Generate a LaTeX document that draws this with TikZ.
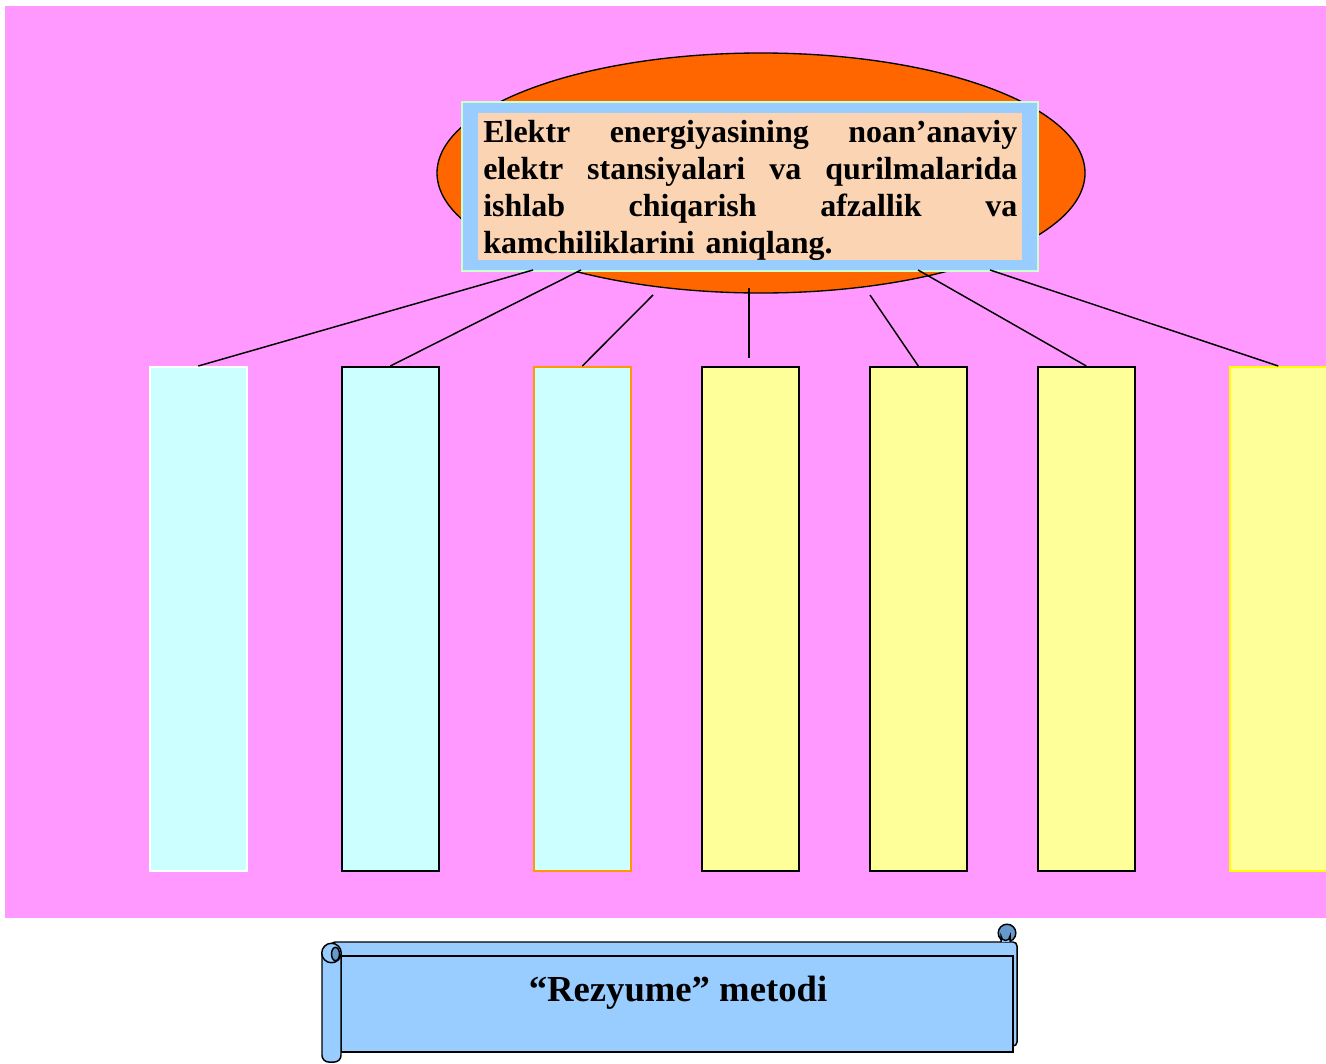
\documentclass[tikz,border=0pt]{standalone}
\usepackage{fontspec}
\setmainfont{Liberation Serif}
\usetikzlibrary{shapes.geometric}
\definecolor{bgpink}{HTML}{FF99FF}
\definecolor{ovalorange}{HTML}{FF6600}
\definecolor{boxblue}{HTML}{99CCFF}
\definecolor{boxgreen}{HTML}{CCFFCC}
\definecolor{peach}{HTML}{FBD4B4}
\definecolor{colcyan}{HTML}{CCFFFF}
\definecolor{colyellow}{HTML}{FFFF99}
\definecolor{brightyellow}{HTML}{FFFF00}
\definecolor{edgeorange}{HTML}{FF9900}
\definecolor{scrollblue}{HTML}{99CCFF}
\definecolor{scrolldark}{HTML}{6699CC}
\begin{document}
\begin{tikzpicture}[x=0.75pt,y=-0.75pt,
  oval/.style={ellipse, draw=black, line width=1pt, fill=ovalorange,
    minimum width=486pt, minimum height=180pt, inner sep=0pt},
  qbox/.style={rectangle, draw=boxgreen, line width=1pt, fill=boxblue,
    minimum width=432pt, minimum height=126.75pt, inner sep=0pt},
  qinner/.style={rectangle, fill=peach, minimum width=408pt,
    minimum height=110.25pt, inner sep=0pt},
  qtext/.style={inner sep=0pt, text width=400.5pt, align=left,
    font=\fontsize{24pt}{27.75pt}\selectfont\bfseries},
  col/.style={rectangle, line width=1.2pt, minimum width=72.75pt,
    minimum height=378pt, inner sep=0pt, anchor=north west},
  conn/.style={draw=black, line width=1.1pt},
  sline/.style={draw=black, line width=1.1pt},
  title/.style={inner sep=0pt, font=\fontsize{27.5pt}{33pt}\selectfont\bfseries}
]
\useasboundingbox (0,0) rectangle (1326,1063);
% background
\fill[bgpink] (5,6) rectangle (1326,918);
% oval and question box
\node[oval] (oval) at (761,173) {};
\node[qbox] (qbox) at (750,186.5) {};
\node[qinner] (qin) at (750,186.5) {};
\node[qtext, anchor=north west] (qtext) at (483,120)
  {\makebox[400.5pt][l]{Elektr\hfill energiyasining\hfill noan’anaviy}\\
   \makebox[400.5pt][l]{elektr\hfill stansiyalari\hfill va\hfill qurilmalarida}\\
   \makebox[400.5pt][l]{ishlab\hfill chiqarish\hfill afzallik\hfill va}\\
   kamchiliklarini aniqlang.};
% columns
\node[col, fill=colcyan, draw=white] (r1) at (149,366) {};
\node[col, fill=colcyan, draw=black] (r2) at (341,366) {};
\node[col, fill=colcyan, draw=edgeorange] (r3) at (533,366) {};
\node[col, fill=colyellow, draw=black] (r4) at (701,366) {};
\node[col, fill=colyellow, draw=black] (r5) at (869,366) {};
\node[col, fill=colyellow, draw=black] (r6) at (1037,366) {};
\node[col, fill=colyellow, draw=brightyellow] (r7) at (1229,366) {};
% connector start points
\coordinate (s1) at (533,270);
\coordinate (s2) at (581,270);
\coordinate (s3) at (653,295);
\coordinate (s4) at (749,288);
\coordinate (e4) at (749,358);
\coordinate (s5) at (870,295);
\coordinate (s6) at (918,270);
\coordinate (s7) at (990,270);
\draw[conn] (s1) -- (r1.north);
\draw[conn] (s2) -- (r2.north);
\draw[conn] (s3) -- (r3.north);
\draw[conn] (s4) -- (e4);
\draw[conn] (s5) -- (r5.north);
\draw[conn] (s6) -- (r6.north);
\draw[conn] (s7) -- (r7.north);
% scroll banner
\draw[sline, fill=scrollblue, rounded corners=3pt] (331,942) rectangle (1017,1046);
\draw[sline, fill=scrolldark] (1007,933) circle[radius=6.6pt];
\draw[sline, fill=scrollblue] (1001,942) -- (1001,936) arc[start angle=180, end angle=360, radius=3.4pt] -- (1010,942);
\draw[sline, fill=scrollblue] (341,956) rectangle (1013,1052);
\draw[sline, fill=scrollblue, rounded corners=5pt] (322,952) -- (322,1062) -- (341,1062) -- (341,952);
\draw[sline, fill=scrollblue] (331.5,953) circle[radius=7.3pt];
\draw[sline, fill=scrolldark] (335.5,954) ellipse[x radius=3pt, y radius=5pt];
\node[title, anchor=base] (title) at (678,1001) {“Rezyume” metodi};
\end{tikzpicture}
\end{document}
